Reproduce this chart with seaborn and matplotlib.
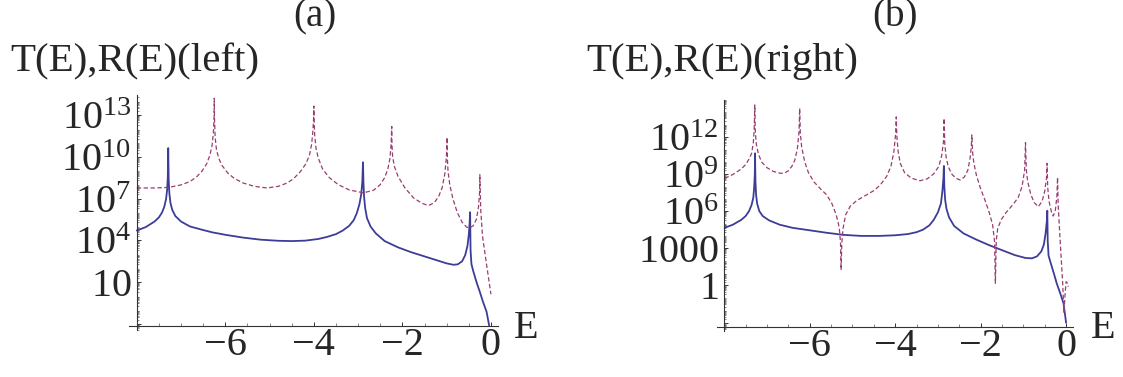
import numpy as np
import pandas as pd
import matplotlib
matplotlib.use("Agg")
import matplotlib.pyplot as plt
import matplotlib.ticker as mticker
import seaborn as sns

# panel (a): transmission T (solid) and reflection R (dashed), left incidence
# values stored as log10 of T(E), R(E)
E_T_left = [-8.0, -7.8, -7.6, -7.5, -7.43, -7.38, -7.34, -7.315, -7.3, -7.29, -7.28,
            -7.265, -7.24, -7.2, -7.13, -7.0, -6.8, -6.57, -6.3, -6.0, -5.6, -5.2,
            -4.8, -4.5, -4.2, -3.9, -3.7, -3.5, -3.35, -3.2, -3.1, -3.03, -2.97,
            -2.93, -2.905, -2.89, -2.88, -2.865, -2.84, -2.8, -2.72, -2.6, -2.4, -2.1,
            -1.8, -1.5, -1.2, -1.0, -0.85, -0.75, -0.65, -0.58, -0.53, -0.5, -0.48,
            -0.47, -0.46, -0.44, -0.4, -0.32, -0.25, -0.18, -0.1, -0.04]
logT_left = [4.71, 4.95, 5.35, 5.65, 6.0, 6.4, 6.95, 7.6, 8.5, 10.62, 8.4,
             7.4, 6.7, 6.2, 5.75, 5.35, 5.0, 4.8, 4.58, 4.4, 4.2, 4.05,
             3.97, 3.95, 3.98, 4.1, 4.25, 4.45, 4.7, 5.05, 5.45, 5.95, 6.6,
             7.3, 8.2, 9.6, 8.2, 7.1, 6.3, 5.6, 5.0, 4.5, 3.95, 3.5,
             3.15, 2.85, 2.55, 2.35, 2.25, 2.28, 2.5, 2.95, 3.6, 4.4, 5.3,
             6.02, 3.3, 2.3, 1.8, 0.95, 0.3, -0.4, -1.1, -2.1]

E_R_left = [-8.0, -7.6, -7.28, -7.0, -6.8, -6.65, -6.52, -6.42, -6.35, -6.3, -6.27,
            -6.255, -6.25, -6.245, -6.23, -6.2, -6.15, -6.08, -5.95, -5.8, -5.6, -5.35,
            -5.06, -4.8, -4.6, -4.45, -4.3, -4.18, -4.1, -4.05, -4.02, -4.005, -4.0,
            -3.995, -3.98, -3.95, -3.9, -3.8, -3.65, -3.45, -3.2, -2.88, -2.65, -2.5,
            -2.4, -2.33, -2.28, -2.255, -2.24, -2.235, -2.22, -2.18, -2.1, -1.95, -1.75,
            -1.55, -1.41, -1.28, -1.18, -1.1, -1.04, -1.005, -0.99, -0.985, -0.97, -0.93,
            -0.86, -0.76, -0.65, -0.55, -0.48, -0.4, -0.33, -0.28, -0.255, -0.25, -0.23,
            -0.19, -0.1, 0.0]
logR_left = [7.76, 7.76, 7.8, 7.98, 8.22, 8.55, 9.0, 9.5, 10.1, 10.8, 11.7,
             12.8, 14.2, 12.8, 11.4, 10.5, 9.9, 9.4, 8.85, 8.45, 8.12, 7.88,
             7.76, 7.88, 8.12, 8.45, 8.95, 9.5, 10.1, 10.9, 11.9, 12.8, 13.64,
             12.7, 11.5, 10.6, 9.9, 9.1, 8.5, 8.0, 7.62, 7.41, 7.6, 8.0,
             8.5, 9.1, 9.9, 10.9, 12.17, 10.8, 10.0, 9.3, 8.6, 7.8, 7.05,
             6.65, 6.5, 6.7, 7.15, 7.8, 8.8, 10.0, 11.4, 10.0, 9.0, 8.0,
             7.0, 6.0, 5.3, 4.95, 4.9, 5.05, 5.5, 6.4, 7.5, 8.71, 6.2,
             4.31, 2.3, 0.14]

# panel (b): right incidence
E_T_right = [-7.99, -7.8, -7.6, -7.5, -7.42, -7.36, -7.32, -7.3, -7.285, -7.28, -7.27,
             -7.255, -7.23, -7.18, -7.1, -6.95, -6.7, -6.4, -6.0, -5.6, -5.2, -4.8,
             -4.36, -4.0, -3.7, -3.5, -3.35, -3.2, -3.1, -3.0, -2.93, -2.895, -2.87,
             -2.86, -2.85, -2.83, -2.8, -2.74, -2.62, -2.4, -2.1, -1.8, -1.5, -1.2,
             -0.95, -0.8, -0.68, -0.58, -0.52, -0.48, -0.45, -0.44, -0.43, -0.41, -0.35,
             -0.28, -0.22, -0.14, -0.06, 0.0]
logT_right = [4.66, 4.9, 5.3, 5.6, 6.0, 6.5, 7.1, 7.9, 9.0, 10.66, 8.4,
              7.3, 6.6, 6.0, 5.6, 5.25, 4.9, 4.65, 4.45, 4.25, 4.08, 4.0,
              4.0, 4.05, 4.15, 4.3, 4.5, 4.85, 5.28, 5.9, 6.6, 7.6, 8.7,
              9.64, 8.0, 6.9, 6.2, 5.5, 4.8, 4.2, 3.7, 3.25, 2.85, 2.45,
              2.22, 2.19, 2.35, 2.75, 3.3, 4.2, 5.2, 6.03, 3.6, 2.4, 1.7,
              0.9, 0.18, -0.6, -1.43, -3.0]

E_R_right = [-7.99, -7.8, -7.6, -7.5, -7.42, -7.36, -7.32, -7.3, -7.285, -7.275, -7.25,
             -7.2, -7.13, -7.0, -6.85, -6.7, -6.6, -6.5, -6.42, -6.35, -6.29, -6.25,
             -6.235, -6.22, -6.19, -6.12, -6.03, -5.9, -5.75, -5.6, -5.48, -5.38, -5.31,
             -5.28, -5.265, -5.25, -5.22, -5.16, -5.05, -4.9, -4.7, -4.5, -4.35, -4.2,
             -4.1, -4.03, -3.99, -3.975, -3.96, -3.93, -3.88, -3.78, -3.62, -3.42, -3.25,
             -3.1, -2.98, -2.91, -2.87, -2.855, -2.84, -2.81, -2.76, -2.68, -2.58, -2.48,
             -2.38, -2.3, -2.25, -2.22, -2.205, -2.19, -2.16, -2.1, -2.0, -1.9, -1.8,
             -1.72, -1.675, -1.655, -1.635, -1.6, -1.52, -1.4, -1.25, -1.12, -1.03, -0.97,
             -0.95, -0.93, -0.9, -0.83, -0.75, -0.65, -0.56, -0.5, -0.46, -0.445, -0.43,
             -0.4, -0.34, -0.3, -0.25, -0.215, -0.2, -0.185, -0.14, -0.08, -0.05, -0.02,
             0.0, 0.03, 0.05]
logR_right = [8.64, 8.95, 9.4, 9.75, 10.2, 10.66, 11.5, 12.6, 14.56, 12.5, 11.4,
              10.6, 9.98, 9.5, 9.2, 9.06, 9.05, 9.25, 9.6, 10.1, 11.0, 12.4,
              14.29, 12.3, 11.2, 10.0, 9.1, 8.35, 7.8, 7.3, 6.6, 5.7, 4.7,
              3.5, 1.25, 3.4, 4.6, 5.7, 6.4, 6.85, 7.25, 7.65, 8.1, 8.8,
              9.6, 10.8, 12.2, 13.6, 12.0, 10.8, 9.85, 9.1, 8.65, 8.45, 8.6,
              9.0, 9.6, 10.5, 11.6, 13.48, 11.5, 10.4, 9.6, 9.0, 8.65, 8.51,
              8.75, 9.3, 10.2, 11.1, 12.14, 10.8, 9.9, 8.9, 7.8, 6.9, 5.9,
              4.9, 3.6, 0.18, 3.6, 4.6, 5.3, 5.9, 6.5, 7.1, 8.0, 9.3,
              11.52, 9.3, 8.4, 7.4, 6.7, 6.35, 6.8, 7.6, 8.6, 9.85, 7.9,
              6.8, 5.9, 5.6, 6.1, 7.2, 8.72, 6.5, 3.67, 0.2, -2.24, -0.5,
              0.31, 0.2, -0.1]

x_ticks = [-6, -4, -2, 0]
x_labels = ["\u22126", "\u22124", "\u22122", "0"]
y_exp_left = [-2, 1, 4, 7, 10, 13]
y_labels_left = ["", "$10$", "$10^{4}$", "$10^{7}$", "$10^{10}$", "$10^{13}$"]
y_exp_right = [-3, 0, 3, 6, 9, 12]
y_labels_right = ["", "$1$", "$1000$", "$10^{6}$", "$10^{9}$", "$10^{12}$"]

blue = "#3d3d99"
purple = "#993d71"

sns.set_style("ticks")
plt.rcParams["font.family"] = ["Liberation Serif", "DejaVu Serif"]
plt.rcParams["mathtext.fontset"] = "custom"
plt.rcParams["mathtext.rm"] = "Liberation Serif"
plt.rcParams["mathtext.it"] = "Liberation Serif:italic"

fig = plt.figure(figsize=(11.23, 3.77), dpi=100)
W, H = 1123, 377


def panel(rect, xlim, ylog, yspine, E_T, logT, E_R, logR, yexp, ylabels):
    ax = fig.add_axes(rect)
    dT = pd.DataFrame({"E": E_T, "value": 10.0 ** np.array(logT)})
    dR = pd.DataFrame({"E": E_R, "value": 10.0 ** np.array(logR)})
    ax.set_yscale("log")
    sns.lineplot(data=dT, x="E", y="value", ax=ax, color=blue, lw=1.3,
                 sort=False, estimator=None)
    sns.lineplot(data=dR, x="E", y="value", ax=ax, color=purple, lw=0.9,
                 linestyle=(0, (3.5, 2.0)), sort=False, estimator=None)
    ax.set_xlim(*xlim)
    ax.set_ylim(10.0 ** ylog[0], 10.0 ** ylog[1])
    ax.set_xlabel("")
    ax.set_ylabel("")
    for s in ["top", "right"]:
        ax.spines[s].set_visible(False)
    ax.spines["left"].set_position(("data", -8))
    ax.spines["bottom"].set_position(("data", 10.0 ** yspine))
    for s in ["left", "bottom"]:
        ax.spines[s].set_color("#333333")
        ax.spines[s].set_linewidth(0.8)
    ax.xaxis.set_major_locator(mticker.FixedLocator(x_ticks))
    ax.xaxis.set_major_formatter(mticker.FixedFormatter(x_labels))
    ax.xaxis.set_minor_locator(mticker.MultipleLocator(0.5))
    ax.yaxis.set_major_locator(mticker.FixedLocator([10.0 ** e for e in yexp]))
    ax.yaxis.set_major_formatter(mticker.FixedFormatter(ylabels))
    ax.yaxis.set_minor_locator(mticker.LogLocator(base=10, subs=np.arange(2, 10), numticks=40))
    ax.yaxis.set_minor_formatter(mticker.NullFormatter())
    ax.tick_params(axis="both", which="major", direction="in", length=3.2, width=0.7,
                   color="#333333", labelsize=29)
    ax.tick_params(axis="both", which="minor", direction="in", length=2.0, width=0.5,
                   color="#555555")
    ax.tick_params(axis="y", which="minor", length=1.2)
    ax.tick_params(axis="x", which="major", pad=1)
    ax.tick_params(axis="y", which="major", pad=4)
    ax.patch.set_alpha(0)
    return ax


ax1 = panel([129 / W, 1 - 330 / H, (498 - 129) / W, 235 / H], (-8.176, 0.16),
            (-2.43, 14.43), -2.14, E_T_left, logT_left, E_R_left, logR_left,
            y_exp_left, y_labels_left)
ax2 = panel([717 / W, 1 - 331 / H, (1072.5 - 717) / W, 231 / H], (-8.17, 0.15),
            (-3.67, 14.96), -3.32, E_T_right, logT_right, E_R_right, logR_right,
            y_exp_right, y_labels_right)

fig.text(314.6 / W, 1 - 17 / H, "(a)", fontsize=28, ha="center", va="center")
fig.text(895 / W, 1 - 17 / H, "(b)", fontsize=28, ha="center", va="center")
fig.text(10.7 / W, 1 - 62 / H, "T(E),R(E)(left)", fontsize=29.5, ha="left", va="center")
fig.text(586.8 / W, 1 - 62 / H, "T(E),R(E)(right)", fontsize=29.5, ha="left", va="center")
fig.text(514 / W, 1 - 328 / H, "E", fontsize=29, ha="left", va="center")
fig.text(1091 / W, 1 - 328 / H, "E", fontsize=29, ha="left", va="center")

fig.savefig("out.png", dpi=100)
